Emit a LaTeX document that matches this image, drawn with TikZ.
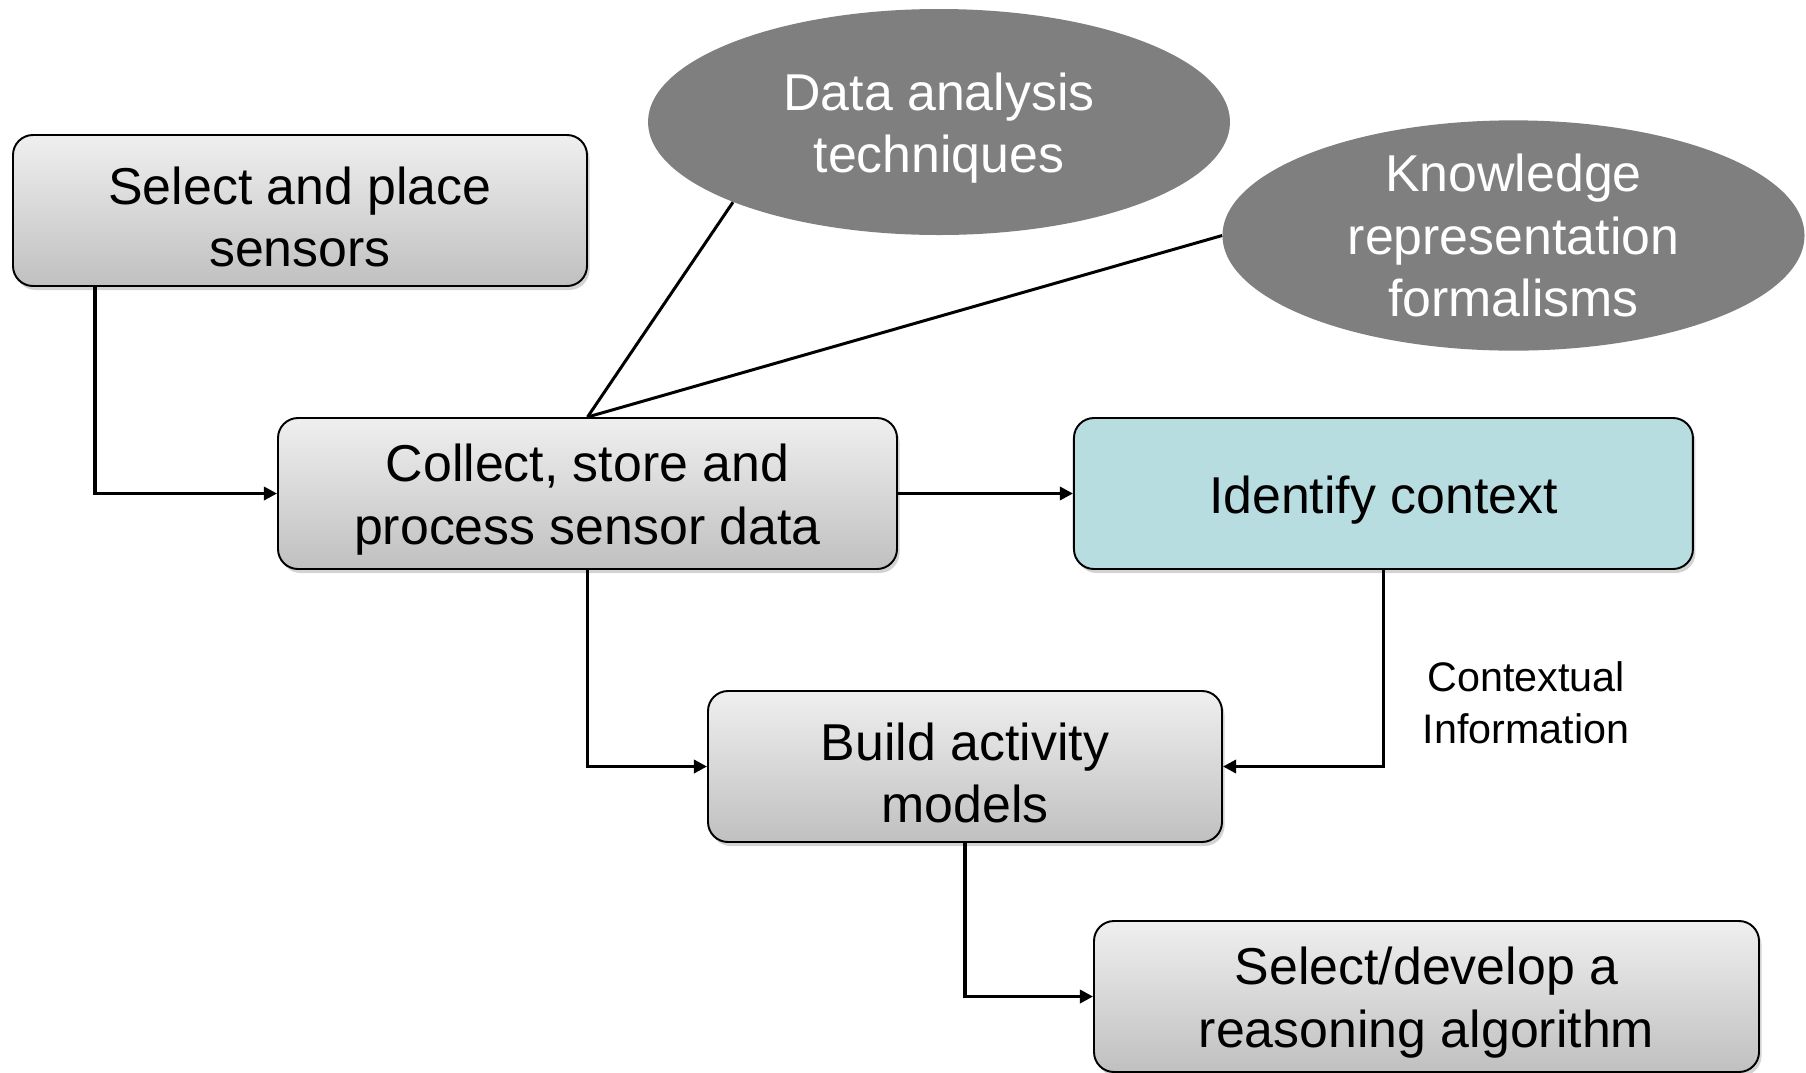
\documentclass[tikz,border=0pt]{standalone}
\usepackage{fontspec}
\setmainfont{Liberation Sans}
\usetikzlibrary{positioning,arrows.meta,shapes.geometric,shadows}
\definecolor{boxTop}{HTML}{EFEFEF}
\definecolor{boxBottom}{HTML}{C0C0C0}
\definecolor{contextTeal}{HTML}{B8DDE1}
\definecolor{bubbleGray}{HTML}{7F7F7F}
\newcommand{\liftline}{\rule{0pt}{1.0cm}}
\tikzset{
    stepbox/.style={draw=black,line width=1.1pt,rounded corners=0.4cm,
        top color=boxTop,bottom color=boxBottom,
        minimum height=3.02cm,align=center,inner sep=0pt,
        font=\fontsize{29.5}{35.5}\selectfont,
        drop shadow={opacity=0.35,shadow xshift=0.05cm,shadow yshift=-0.08cm}},
    tealbox/.style={stepbox,fill=contextTeal,top color=contextTeal,bottom color=contextTeal},
    bubble/.style={ellipse,fill=bubbleGray,minimum width=11.64cm,minimum height=4.52cm,
        align=center,inner sep=0pt,text=white,
        font=\fontsize{29.5}{35.5}\selectfont},
    arrow/.style={-{Triangle[length=7.5pt,width=7.5pt]},draw=black,line width=1.8pt},
    link/.style={draw=black,line width=1.7pt},
    infolabel/.style={align=center,inner sep=0pt,font=\fontsize{23.5}{29.5}\selectfont}
}
\begin{document}
\begin{tikzpicture}
    \useasboundingbox (0,0) rectangle (36.12,-21.44);
    % boxes of the process
    \node[stepbox,minimum width=11.48cm] (sensors) at (6.00,-4.21) {\liftline Select and place\\sensors};
    \node[stepbox,minimum width=12.38cm] (collect) at (11.75,-9.87) {\liftline Collect, store and\\process sensor data};
    \node[tealbox,minimum width=12.38cm] (identify) [right=3.5cm of collect] {\liftline Identify context};
    \node[stepbox,minimum width=10.28cm] (build) at (19.30,-15.33) {\liftline Build activity\\models};
    \node[stepbox,minimum width=13.30cm] (reason) at (28.53,-19.93) {\liftline Select/develop a\\reasoning algorithm};
    % supporting fields
    \node[bubble] (analysis) at (18.78,-2.44) {\liftline Data analysis\\techniques};
    \node[bubble] (knowledge) at (30.27,-4.71) {Knowledge\\representation\\formalisms};
    \node[infolabel] (ctxinfo) at (30.52,-14.06) {Contextual\\Information};
    % connectors
    \draw[arrow] ([xshift=1.66cm]sensors.south west) |- (collect.west);
    \draw[arrow] (collect.east) -- (identify.west);
    \draw[arrow] (collect.south) |- (build.west);
    \draw[arrow] (identify.south) |- (build.east);
    \draw[arrow] (build.south) |- (reason.west);
    \draw[link] (collect.north) -- (analysis.south west);
    \draw[link] (collect.north) -- (knowledge.west);
\end{tikzpicture}
\end{document}
